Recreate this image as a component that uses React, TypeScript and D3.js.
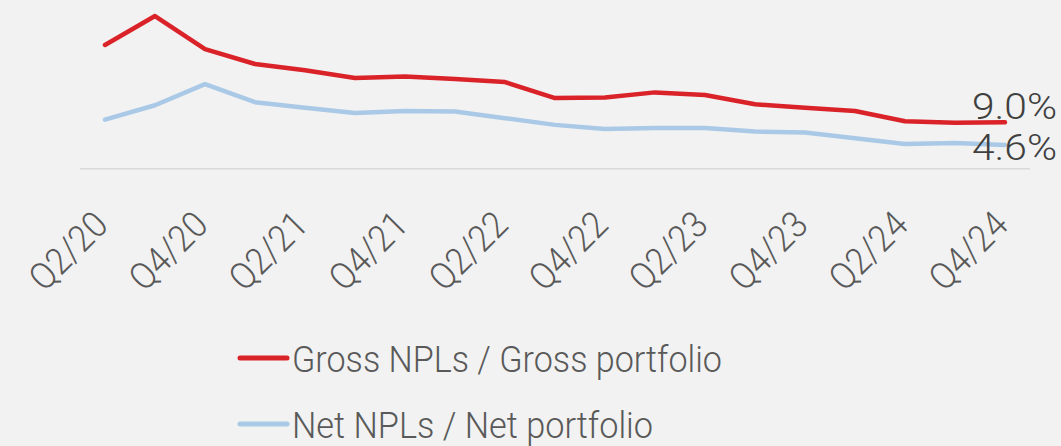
import React from 'react'
import * as d3 from 'd3'

const width = 1061
const height = 446
const margin = { top: 14, right: 31, bottom: 277, left: 80 }

// quarters Q2/20 .. Q4/24, labels shown every second quarter
const quarters = [
  'Q2/20', 'Q3/20', 'Q4/20', 'Q1/21', 'Q2/21', 'Q3/21', 'Q4/21', 'Q1/22', 'Q2/22', 'Q3/22',
  'Q4/22', 'Q1/23', 'Q2/23', 'Q3/23', 'Q4/23', 'Q1/24', 'Q2/24', 'Q3/24', 'Q4/24',
]
const grossNpl = [24.0, 29.6, 23.2, 20.3, 19.1, 17.6, 17.9, 17.4, 16.8, 13.7, 13.8, 14.8, 14.3, 12.5, 11.8, 11.2, 9.2, 8.9, 9.0]
const netNpl = [9.5, 12.3, 16.4, 12.9, 11.8, 10.8, 11.2, 11.1, 9.8, 8.5, 7.7, 7.9, 7.9, 7.2, 7.0, 5.9, 4.8, 5.0, 4.6]
const seriesNames = ['Gross NPLs / Gross portfolio', 'Net NPLs / Net portfolio']
const seriesColors = ['#da2229', '#a9c9e7']

const font = 'Roboto, "Noto Sans", sans-serif'

export default function App() {
  const xScale = d3.scalePoint<string>()
    .domain(quarters)
    .range([margin.left, width - margin.right])
    .padding(0.5)
  const yScale = d3.scaleLinear()
    .domain([0, 30])
    .range([168.7, margin.top])

  const line = d3.line<number>()
    .x((d, i) => xScale(quarters[i]) as number)
    .y(d => yScale(d))
    .curve(d3.curveLinear)

  const series = [grossNpl, netNpl]
  const last = quarters.length - 1
  const lastX = xScale(quarters[last]) as number

  return (
    <div style={{ position: 'fixed', left: 0, top: 0 }}>
      <svg width={width} height={height} style={{ display: 'block' }}>
        <rect width={width} height={height} fill="#f2f2f2" />
        {/* x axis line */}
        <line x1={margin.left} x2={width - margin.right} y1={yScale(0)} y2={yScale(0)}
          stroke="#d9d9d9" strokeWidth={1.5} />
        {/* tick labels, rotated */}
        {quarters.map((q, i) => i % 2 === 0 ? (
          <text key={q}
            transform={`translate(${(xScale(q) as number) + 5}, 227) rotate(-45)`}
            textAnchor="end" fontFamily={font} fontWeight={300} fontSize={37}
            fill="#595959" textLength={93} lengthAdjust="spacingAndGlyphs">{q}</text>
        ) : null)}
        {/* lines */}
        {series.map((s, k) => (
          <path key={k} d={line(s) || ''} fill="none" stroke={seriesColors[k]}
            strokeWidth={4.5} strokeLinejoin="round" strokeLinecap="round" />
        )).reverse()}
        {/* end labels */}
        <text x={lastX + 9.5} y={yScale(grossNpl[last]) - 3} textAnchor="middle"
          fontFamily={font} fontWeight={300} fontSize={37} fill="#404040"
          textLength={85} lengthAdjust="spacingAndGlyphs">{grossNpl[last].toFixed(1)}%</text>
        <text x={lastX + 9.5} y={yScale(netNpl[last]) + 15} textAnchor="middle"
          fontFamily={font} fontWeight={300} fontSize={37} fill="#404040"
          textLength={85} lengthAdjust="spacingAndGlyphs">{netNpl[last].toFixed(1)}%</text>
        {/* legend */}
        {seriesNames.map((name, k) => {
          const y = 358 + k * 66
          return (
            <g key={name}>
              <line x1={240} x2={287} y1={y} y2={y} stroke={seriesColors[k]}
                strokeWidth={5} strokeLinecap="round" />
              <text x={292} y={y + 13.5} fontFamily={font} fontWeight={300} fontSize={37}
                fill="#595959" textLength={k === 0 ? 430 : 361}
                lengthAdjust="spacingAndGlyphs">{name}</text>
            </g>
          )
        })}
      </svg>
    </div>
  )
}
